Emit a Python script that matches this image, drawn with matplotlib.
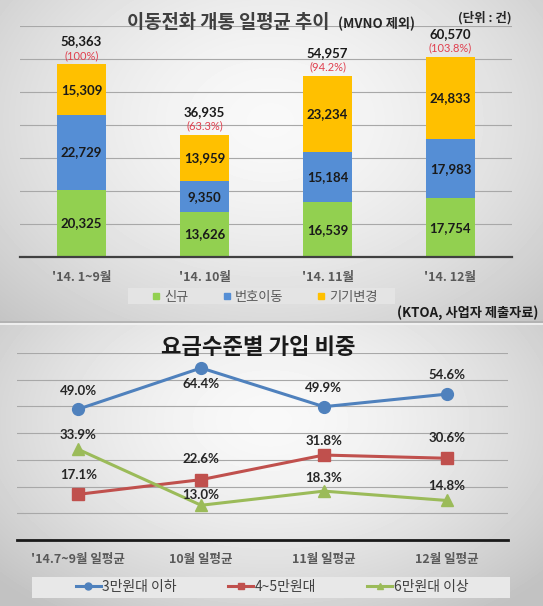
import numpy as np
import matplotlib
matplotlib.use('Agg')
import matplotlib.pyplot as plt
from matplotlib.lines import Line2D
from matplotlib.patches import Rectangle

plt.rcParams['font.family'] = ['Noto Sans CJK KR', 'DejaVu Sans']

# ---------------- data ----------------
bar_cats = ["'14. 1~9월", "'14. 10월", "'14. 11월", "'14. 12월"]
bar_series = ['신규', '번호이동', '기기변경']
new_subs = [20325, 13626, 16539, 17754]
mnp = [22729, 9350, 15184, 17983]
device_change = [15309, 13959, 23234, 24833]
totals = [58363, 36935, 54957, 60570]
total_pct = ["(100%)", "(63.3%)", "(94.2%)", "(103.8%)"]

line_cats = ["'14.7~9월 일평균", "10월 일평균", "11월 일평균", "12월 일평균"]
line_series = ['3만원대 이하', '4~5만원대', '6만원대 이상']
low_plan = [49.0, 64.4, 49.9, 54.6]
mid_plan = [17.1, 22.6, 31.8, 30.6]
high_plan = [33.9, 13.0, 18.3, 14.8]

# ---------------- style ----------------
W, H = 543, 606
bar_colors = ['#92D050', '#558ED5', '#FFC000']
line_colors = ['#4F81BD', '#C0504D', '#9BBB59']
line_markers = ['o', 's', '^']
# label offsets (pixels, positive = above marker)
label_off = [[18, -16, 19, 19], [19, 21, 14, 20], [14, 10, 13, 14]]
NUMFONT = ['Lato', 'Noto Sans CJK KR']
px = 0.72  # points per pixel at 100 dpi

fig = plt.figure(figsize=(W / 100, H / 100), dpi=100)

# background gradient
bg = fig.add_axes([0, 0, 1, 1], zorder=-10)
yy, xx = np.mgrid[0:H, 0:W]
r_top = np.sqrt(((xx - 270) / 340.0) ** 2 + ((yy - 120) / 250.0) ** 2)
r_bot = np.sqrt(((xx - 270) / 340.0) ** 2 + ((yy - 420) / 220.0) ** 2)
val = np.where(yy < 323, 0.975 - 0.17 * r_top ** 1.6, 0.975 - 0.19 * r_bot ** 1.6)
val = np.clip(val, 0.76, 0.98)
bg.imshow(val, cmap='gray', vmin=0, vmax=1, extent=[0, W, H, 0], aspect='auto',
          interpolation='bilinear')
bg.plot([0, W], [321.5, 321.5], color='#b0b0b0', lw=1.2)
bg.plot([0, W], [323.5, 323.5], color='#f4f4f4', lw=1.2)
# legend boxes
bg.add_patch(Rectangle((128, 288), 267, 16, facecolor='#e4e4e4', edgecolor='none'))
bg.add_patch(Rectangle((32, 577), 478, 21, facecolor='#e8e8e8', edgecolor='none'))
bg.set_xlim(0, W)
bg.set_ylim(H, 0)
bg.axis('off')

# ---------------- top bar chart ----------------
ax1 = fig.add_axes([20 / W, 1 - 257 / H, 492 / W, 231 / H])
ax1.patch.set_alpha(0)
x = np.arange(len(bar_cats))
bottom = np.zeros(len(bar_cats))
for vals, col, name in zip([new_subs, mnp, device_change], bar_colors, bar_series):
    ax1.bar(x, vals, width=0.4, bottom=bottom, color=col, label=name, zorder=3)
    for i, v in enumerate(vals):
        ax1.text(x[i], bottom[i] + v / 2, f"{v:,}", ha='center', va='center',
                 fontsize=9.5, fontweight='bold', color='#1a1a1a', family=NUMFONT, zorder=4)
    bottom += np.array(vals)
for i, (t, p) in enumerate(zip(totals, total_pct)):
    ax1.annotate(f"{t:,}", (x[i], t), xytext=(0, 23 * px), textcoords='offset points',
                 ha='center', va='center', fontsize=9.5, fontweight='bold',
                 color='#1a1a1a', family=NUMFONT)
    ax1.annotate(p, (x[i], t), xytext=(0, 9 * px), textcoords='offset points',
                 ha='center', va='center', fontsize=8, color='#E0404F', family=NUMFONT)
ax1.set_xlim(-0.5, 3.5)
ax1.set_ylim(0, 70000)
ax1.set_yticks(np.arange(0, 70001, 10000))
ax1.yaxis.grid(True, color='#a8a8a8', lw=0.8, zorder=0)
ax1.tick_params(axis='y', left=False, labelleft=False)
ax1.set_xticks(x)
ax1.set_xticklabels(bar_cats, fontsize=9, fontweight='bold', color='#595959')
ax1.tick_params(axis='x', length=0, pad=10)
for s in ['top', 'right', 'left']:
    ax1.spines[s].set_visible(False)
ax1.spines['bottom'].set_color('#404040')
ax1.spines['bottom'].set_linewidth(1.6)
ax1.spines['bottom'].set_zorder(5)

h1 = [Line2D([], [], marker='s', ls='none', color=c, markersize=5) for c in bar_colors]
leg1 = fig.legend(h1, bar_series, loc='center', bbox_to_anchor=(265 / W, 1 - 297 / H),
                  ncol=3, frameon=False, fontsize=9.5, handlelength=0.6,
                  handletextpad=0.3, columnspacing=2.6)
for t in leg1.get_texts():
    t.set_color('#595959')

fig.text(127 / W, 1 - 23 / H, '이동전화 개통 일평균 추이', fontsize=13.5, color='#404040',
         ha='left', va='center', fontweight='bold')
fig.text(338 / W, 1 - 24 / H, '(MVNO 제외)', fontsize=9.5, color='#262626',
         ha='left', va='center', fontweight='bold')
fig.text(512 / W, 1 - 18 / H, '(단위 : 건)', fontsize=9, color='#262626',
         ha='right', va='center', fontweight='bold')
fig.text(538 / W, 1 - 313 / H, '(KTOA, 사업자 제출자료)', fontsize=9.5, color='#1a1a1a',
         ha='right', va='center', fontweight='bold')

# ---------------- bottom line chart ----------------
ax2 = fig.add_axes([17 / W, 1 - 540 / H, 491 / W, 187 / H])
ax2.patch.set_alpha(0)
xl = np.arange(len(line_cats))
handles = []
for k, (vals, col, mk, name) in enumerate(zip([low_plan, mid_plan, high_plan], line_colors,
                                             line_markers, line_series)):
    ax2.plot(xl, vals, color=col, lw=2.2, marker=mk, markersize=8.5, zorder=3)
    handles.append(Line2D([], [], color=col, lw=2.2, marker=mk, markersize=5))
    for i, v in enumerate(vals):
        ax2.annotate(f"{v:.1f}%", (xl[i], v), xytext=(0, label_off[k][i] * px),
                     textcoords='offset points', ha='center', va='center',
                     fontsize=9.5, fontweight='bold', color='#262626', family=NUMFONT, zorder=4)
ax2.set_xlim(-0.5, 3.5)
ax2.set_ylim(0, 70)
ax2.set_yticks(np.arange(0, 71, 10))
ax2.yaxis.grid(True, color='#a8a8a8', lw=0.8, zorder=0)
ax2.tick_params(axis='y', left=False, labelleft=False)
ax2.set_xticks(xl)
ax2.set_xticklabels(line_cats, fontsize=9, fontweight='bold', color='#595959')
ax2.tick_params(axis='x', length=0, pad=9)
for s in ['top', 'right', 'left']:
    ax2.spines[s].set_visible(False)
ax2.spines['bottom'].set_color('#1a1a1a')
ax2.spines['bottom'].set_linewidth(2)
ax2.spines['bottom'].set_zorder(5)

leg2 = fig.legend(handles, line_series, loc='center', bbox_to_anchor=(272 / W, 1 - 587 / H),
                  ncol=3, frameon=False, fontsize=10, handlelength=1.8,
                  handletextpad=0.1, columnspacing=3.7)
for t in leg2.get_texts():
    t.set_color('#404040')

fig.text(258 / W, 1 - 348 / H, '요금수준별 가입 비중', fontsize=16, color='#1a1a1a',
         ha='center', va='center', fontweight='bold')

fig.savefig('out.png', dpi=100)
